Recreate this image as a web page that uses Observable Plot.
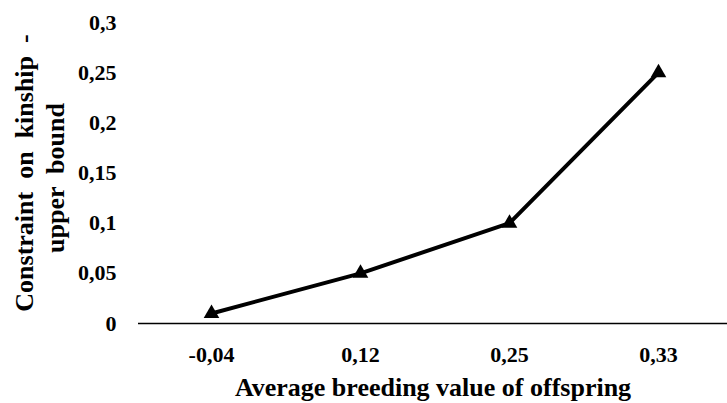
<!DOCTYPE html>
<html><head><meta charset="utf-8">
<script src="https://cdn.jsdelivr.net/npm/d3@7"></script>
<script src="https://cdn.jsdelivr.net/npm/@observablehq/plot@0.6"></script>
<style>
body{margin:0;background:#fff}
#chart svg text{font-family:"Liberation Serif","Times New Roman",serif !important;font-weight:bold;white-space:pre}
</style>
</head><body><div id="chart"></div>
<script>
const categories = ["-0,04", "0,12", "0,25", "0,33"];
const values = [0.01, 0.05, 0.1, 0.25];
const yTicks = [0, 0.05, 0.1, 0.15, 0.2, 0.25, 0.3];
const xTitle = "Average breeding value of offspring";
const yTitle = ["Constraint  on  kinship  -", "upper  bound"];

const data = categories.map((c, i) => ({c, v: values[i]}));
const fmt = v => String(v).replace(".", ",");

const chart = Plot.plot({
  width: 727, height: 403,
  marginLeft: 138, marginRight: 0, marginTop: 22, marginBottom: 80,
  style: {fontFamily: "Liberation Serif", fontSize: "22px", color: "#000", background: "#fff"},
  x: {type: "point", domain: categories, range: [211, 658], padding: 0, label: null},
  y: {domain: [0, 0.3], label: null},
  marks: [
    Plot.axisY({ticks: yTicks, tickFormat: fmt, tickSize: 0, tickPadding: 22, fontSize: 22, label: null}),
    Plot.axisX({tickSize: 0, tickPadding: 23, fontSize: 22, label: null}),
    Plot.ruleX([0], {x: () => null, frameAnchor: "left"}),
    Plot.ruleY([0], {stroke: "#000", strokeWidth: 1.5}),
    Plot.line(data, {x: "c", y: "v", stroke: "#000", strokeWidth: 4}),
    Plot.dot(data, {x: "c", y: "v", symbol: "triangle", fill: "#000", stroke: "none", r: 5.8}),
    Plot.text([xTitle], {frameAnchor: "bottom", dy: 72, fontSize: 26, fill: "#000"}),
    Plot.text([yTitle[0]], {frameAnchor: "left", textAnchor: "middle", rotate: -90, dx: -114, dy: 0, fontSize: 26, fill: "#000"}),
    Plot.text([yTitle[1]], {frameAnchor: "left", textAnchor: "middle", rotate: -90, dx: -83, dy: 5, fontSize: 26, fill: "#000"})
  ]
});
document.getElementById("chart").appendChild(chart);
</script>
</body></html>
